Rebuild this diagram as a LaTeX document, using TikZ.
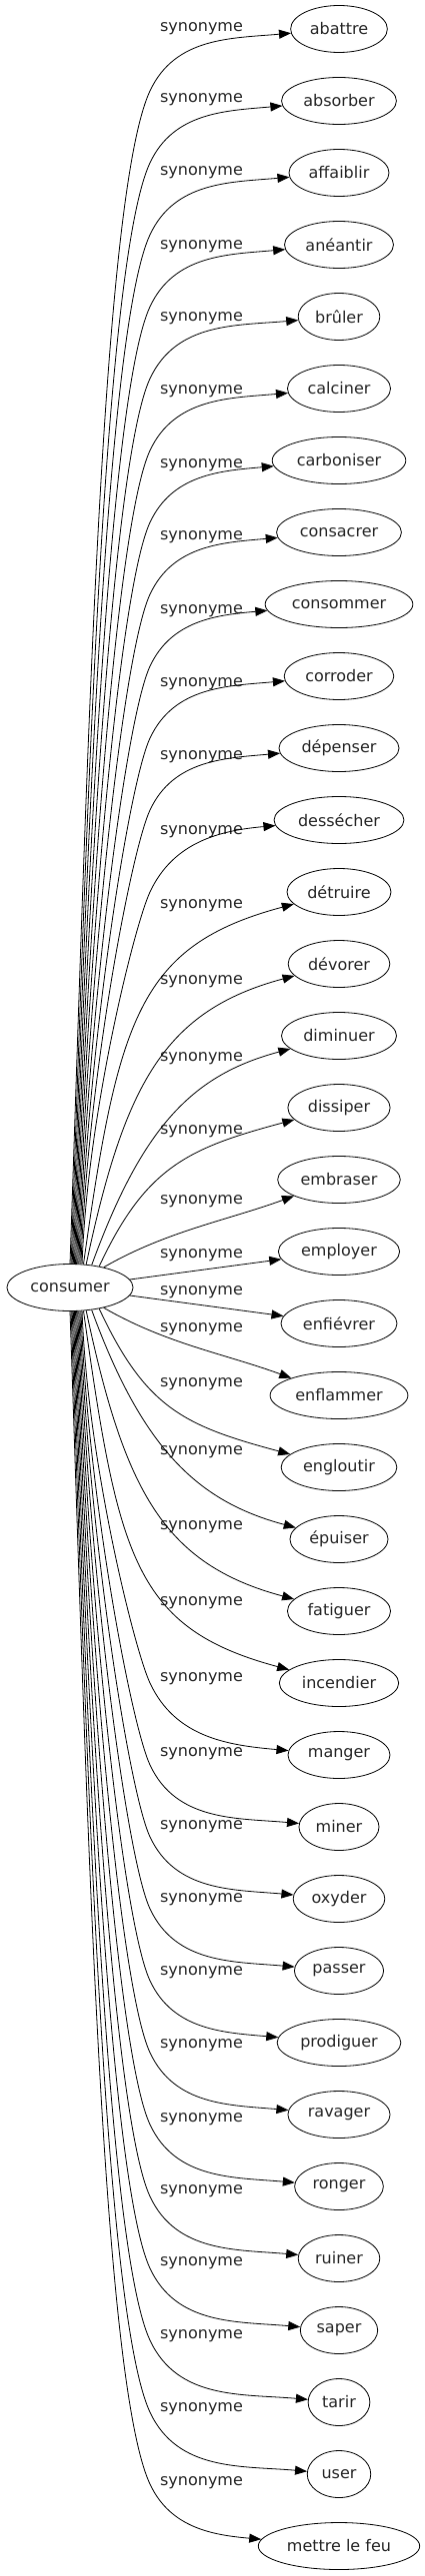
\documentclass[tikz,border=0pt]{standalone}
\usepackage{fontspec}
\setmainfont{DejaVu Sans}
\usetikzlibrary{arrows.meta, shapes.geometric}

\begin{document}
\begin{tikzpicture}[
  x=1pt, y=1pt,
  every node/.style={font=\fontsize{16}{19}\selectfont, text=black!85},
  word/.style={draw, ellipse, line width=0.8pt, inner xsep=5pt, minimum height=47pt},
  rel/.style={inner sep=0pt},
  edge/.style={-{Triangle[length=12pt, width=9pt]}, line width=0.8pt}
]
  \useasboundingbox (0,0) rectangle (424,-2579);

  \node[word] (c) at (70,-1289) {consumer};

  % cibles et etiquettes
  \foreach \i/\word/\ly in {0/abattre/29, 1/absorber/100, 2/affaiblir/173,
      3/anéantir/247, 4/brûler/319, 5/calciner/392, 6/carboniser/466,
      7/consacrer/538, 8/consommer/612, 9/corroder/685, 10/dépenser/758,
      11/dessécher/833, 12/détruire/907, 13/dévorer/983, 14/diminuer/1060,
      15/dissiper/1133, 16/embraser/1203, 17/employer/1257, 18/enfiévrer/1294,
      19/enflammer/1331, 20/engloutir/1386, 21/épuiser/1454, 22/fatiguer/1529,
      23/incendier/1605, 24/manger/1681, 25/miner/1756, 26/oxyder/1829,
      27/passer/1902, 28/prodiguer/1975, 29/ravager/2048, 30/ronger/2122,
      31/ruiner/2194, 32/saper/2266, 33/tarir/2339, 34/user/2412,
      35/mettre le feu/2486}{
    \node[word] (t\i) at (339,{-29-72*\i}) {\word};
    \node[rel] (s\i) at (201.5,-\ly) {synonyme};
  }

  % aretes droites
  \draw[edge] (c) -- (t17);
  \draw[edge] (c) -- (t18);

  % aretes proches
  \foreach \k/\a/\o/\od/\id/\ia in {1/31/30/72/72/200, 2/36/65/110/110/195,
      3/46/70/150/100/195, 4/55/78/185/135/195, 5/60/82/250/160/195}{
    \pgfmathtruncatemacro\up{17-\k}
    \pgfmathtruncatemacro\dn{18+\k}
    \pgfmathtruncatemacro\b{360-\a}
    \pgfmathtruncatemacro\ib{360-\ia}
    \draw[edge] (c.\a) to[out=\o, in=\ia, out distance=\od pt, in distance=\id pt] (t\up);
    \draw[edge] (c.\b) to[out=-\o, in=\ib, out distance=\od pt, in distance=\id pt] (t\dn);
  }

  % aretes lointaines
  \foreach \k in {6,...,17}{
    \pgfmathtruncatemacro\up{17-\k}
    \pgfmathtruncatemacro\dn{18+\k}
    \pgfmathsetmacro\dx{(17-\k)*1.1}
    \pgfmathtruncatemacro\dv{\k==6 ? 72 : 62}
    \pgfmathtruncatemacro\yu{29+72*\up+\dv}
    \pgfmathtruncatemacro\yd{29+72*\dn-\dv}
    \pgfmathtruncatemacro\odu{0.4*(1266-\yu)}
    \pgfmathtruncatemacro\idu{0.1*(1266-\yu)}
    \pgfmathtruncatemacro\odd{0.4*(\yd-1312)}
    \pgfmathtruncatemacro\idd{0.1*(\yd-1312)}
    \draw[edge] ([xshift=\dx pt]c.north) .. controls +(88:\odu pt) and +(245:\idu pt)
      .. (150,-\yu) to[out=65, in=185] (t\up);
    \draw[edge] ([xshift=\dx pt]c.south) .. controls +(-88:\odd pt) and +(115:\idd pt)
      .. (150,-\yd) to[out=-65, in=175] (t\dn);
  }
\end{tikzpicture}
\end{document}
